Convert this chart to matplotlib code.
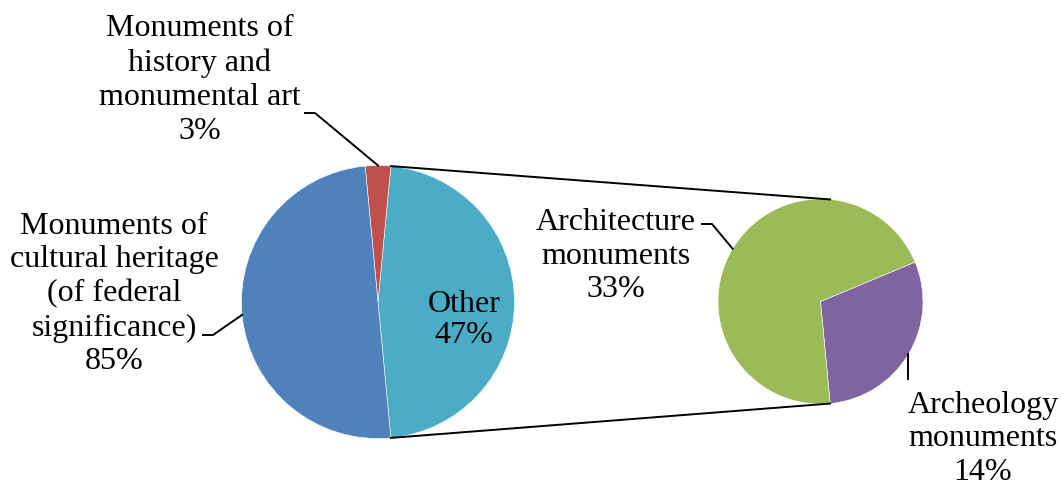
import numpy as np
import matplotlib
matplotlib.use('Agg')
import matplotlib.pyplot as plt

# main pie: other (expanded), history/art, cultural heritage
main_values = [33 + 14, 3, 50]
main_colors = ['#4BACC6', '#C0504D', '#4F81BD']
main_labels = ['Other\n47%',
               'Monuments of\nhistory and\nmonumental art\n3%',
               'Monuments of\ncultural heritage\n(of federal\nsignificance)\n85%']

# secondary pie: archeology, architecture
sub_values = [14, 33]
sub_colors = ['#8064A2', '#9BBB59']
sub_labels = ['Archeology\nmonuments\n14%', 'Architecture\nmonuments\n33%']

plt.rcParams['font.family'] = ['Liberation Serif', 'DejaVu Serif']

W, H = 1062, 488
fig = plt.figure(figsize=(W / 100, H / 100), dpi=100)
ax = fig.add_axes([0, 0, 1, 1])

main_c, main_r = (378, 186), 136.5
sub_c, sub_r = (820.5, 186.5), 102.5

start = -main_values[0] / sum(main_values) * 180
wprops = dict(edgecolor='white', linewidth=0.4)
mw, _ = ax.pie(main_values, colors=main_colors, startangle=start,
               center=main_c, radius=main_r, wedgeprops=wprops, frame=True)
sw, _ = ax.pie(sub_values, colors=sub_colors, startangle=start,
               center=sub_c, radius=sub_r, wedgeprops=wprops, frame=True)


def rim(center, r, ang):
    a = np.deg2rad(ang)
    return center[0] + r * np.cos(a), center[1] + r * np.sin(a)


# connector lines between the "Other" slice and the secondary pie
for ang in (mw[0].theta1, mw[0].theta2):
    p0 = rim(main_c, main_r, ang)
    p1 = rim(sub_c, sub_r, ang)
    ax.plot([p0[0], p1[0]], [p0[1], p1[1]], color='black', lw=1.4)

fs = 23
ls = 1.22
# Other label inside slice
ax.text(464, 168, main_labels[0], ha='center', va='center', fontsize=fs, linespacing=1.08)

# red slice label + leader
ax.text(200, 408, main_labels[1], ha='center', va='center', fontsize=fs, linespacing=ls)
mid = (mw[1].theta1 + mw[1].theta2) / 2
px, py = rim(main_c, main_r, mid)
ax.plot([305, 315, px], [375, 375, py], color='black', lw=1.4)

# blue slice label + leader
ax.text(114, 194, main_labels[2], ha='center', va='center', fontsize=fs, linespacing=ls)
mid = (mw[2].theta1 + mw[2].theta2) / 2
px, py = rim(main_c, main_r, mid)
ax.plot([203, 213, px], [153, 153, py], color='black', lw=1.4)

# architecture label + leader
ax.text(616, 232, sub_labels[1], ha='center', va='center', fontsize=fs, linespacing=ls)
mid = (sw[1].theta1 + sw[1].theta2) / 2
px, py = rim(sub_c, sub_r, mid)
ax.plot([702, 712, px], [264, 264, py], color='black', lw=1.4)

# archeology label + leader
ax.text(983, 49, sub_labels[0], ha='center', va='center', fontsize=fs, linespacing=ls)
mid = (sw[0].theta1 + sw[0].theta2) / 2
px, py = rim(sub_c, sub_r, mid)
ax.plot([px, px], [py, 109], color='black', lw=1.4)

ax.set_xlim(0, W)
ax.set_ylim(0, H)
ax.set_aspect('auto')
ax.axis('off')

fig.savefig('out.png', dpi=100)
